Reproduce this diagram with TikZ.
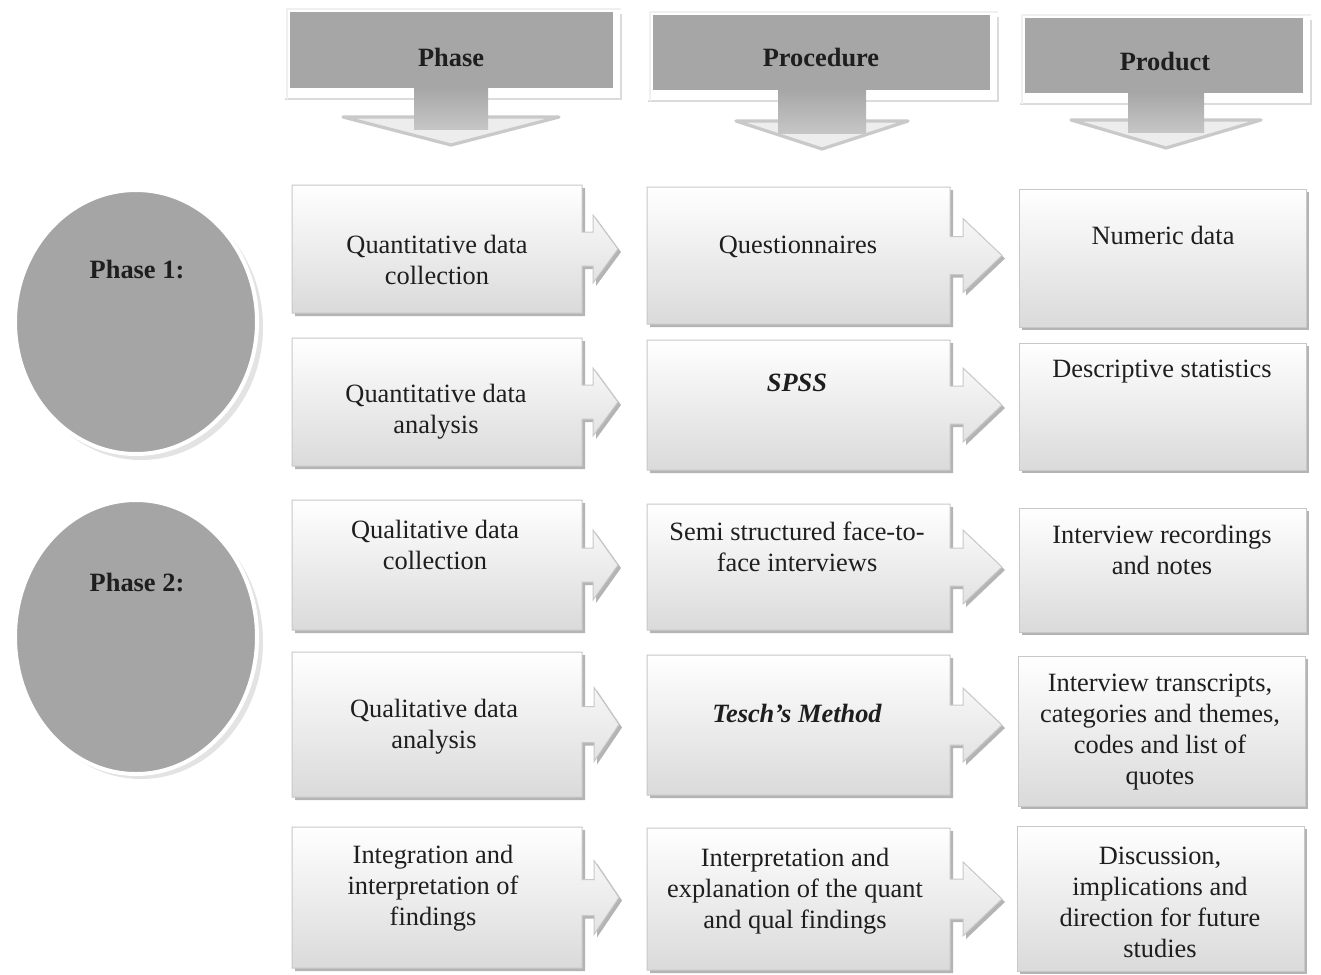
\documentclass[tikz,border=0pt]{standalone}
\usepackage{fontspec}
\setmainfont{Liberation Serif}
\usetikzlibrary{shapes.geometric}
\definecolor{hdrgray}{RGB}{166,166,166}
\definecolor{circgray}{RGB}{165,165,165}
\definecolor{boxbot}{RGB}{218,218,218}
\definecolor{boxline}{RGB}{200,200,200}
\definecolor{shadowc}{RGB}{180,180,180}
\definecolor{txt}{RGB}{30,30,30}
\newcommand\tabbox[9]{% name x0 y0 x1 y1 stemhalf headhalf stemlen headlen
  \coordinate (#1) at ({(#2+#4)/2},{(#3+#5)/2});
  \pgfmathsetmacro\myhw{(#4-#2)/2}%
  \pgfmathsetmacro\myhh{(#5-#3)/2}%
  \pgfmathsetmacro\mysx{\myhw+#8}%
  \pgfmathsetmacro\mytx{\myhw+#8+#9}%
  \begin{scope}[shift={(#1)}]
    \fill[shadowc,shift={(3,3)}] (-\myhw,-\myhh) -- (\myhw,-\myhh) -- (\myhw,-#6) -- (\mysx,-#6) -- (\mysx,-#7) -- (\mytx,0) -- (\mysx,#7) -- (\mysx,#6) -- (\myhw,#6) -- (\myhw,\myhh) -- (-\myhw,\myhh) -- cycle;
    \path[boxsty] (-\myhw,-\myhh) -- (\myhw,-\myhh) -- (\myhw,-#6) -- (\mysx,-#6) -- (\mysx,-#7) -- (\mytx,0) -- (\mysx,#7) -- (\mysx,#6) -- (\myhw,#6) -- (\myhw,\myhh) -- (-\myhw,\myhh) -- cycle;
  \end{scope}}
\newcommand\plainbox[5]{% name x0 y0 x1 y1
  \coordinate (#1) at ({(#2+#4)/2},{(#3+#5)/2});
  \fill[shadowc] ({#2+3},{#3+3}) rectangle ({#4+3},{#5+3});
  \path[boxsty] (#2,#3) rectangle (#4,#5);}
\newcommand\header[9]{% name x0 y0 x1 y1 cx stemhalf headhalf headtop
  \coordinate (#1) at (#6,{(#3+#5)/2});
  \draw[hdrshadow] ({#2-5},{#5+11}) -- ({#6-#7},{#5+11});
  \draw[hdrshadow] ({#6+#7},{#5+11}) -- ({#4+8},{#5+11}) -- ({#4+8},{#3+2});
  \draw[draw=gray!12,line width=0.8pt] ({#2-3},{#5+11}) -- ({#2-3},{#3-3}) -- ({#4+8},{#3-3});
  \filldraw[fill=gray!14,draw=gray!42,line width=1.6pt,line join=round] ({#6-#8},#9) -- ({#6+#8},#9) -- (#6,{#9+28}) -- cycle;
  \shade[top color=hdrgray,bottom color=gray!45] ({#6-#7},{#5-1}) rectangle ({#6+#7},{#9+12});
  \fill[hdrgray] (#2,#3) rectangle (#4,#5);}
\begin{document}
\begin{tikzpicture}[x=0.5pt,y=-0.5pt,
  boxsty/.style={top color=white,bottom color=boxbot,draw=boxline,line width=0.5pt},
  hdrshadow/.style={draw=gray!28,line width=1pt},
  lbl/.style={font=\fontsize{13.2}{15.5}\selectfont,text=txt,align=center,inner sep=0pt},
  ttl/.style={lbl,font=\fontsize{13.2}{15.5}\selectfont\bfseries},
  phase/.style={ellipse,fill=circgray,draw=white,line width=2pt,inner sep=0pt}]
\useasboundingbox (0,0) rectangle (1321,974);
\fill[white] (0,0) rectangle (1321,974);

% headers
\header{hA}{290}{12}{613}{88}{451}{37}{108}{117}
\header{hB}{653}{15}{990}{90}{822}{44}{86}{121}
\header{hC}{1025}{18}{1303}{93}{1166}{38}{95}{120}
\node[ttl] (hAt) at (451,57) {Phase};
\node[ttl] (hBt) at (821,58) {Procedure};
\node[ttl] (hCt) at (1165,62) {Product};

% phase circles
\fill[gray!22] (141,327) ellipse [x radius=122, y radius=133];
\node[phase,minimum width=121pt,minimum height=132pt] (c1) at (136,322) {};
\fill[gray!22] (141,642) ellipse [x radius=122, y radius=137];
\node[phase,minimum width=121pt,minimum height=137pt] (c2) at (136,637) {};
\node[ttl] (c1t) at (137,270) {Phase 1:};
\node[ttl] (c2t) at (137,583) {Phase 2:};

% column 1
\tabbox{a1}{292}{185}{582}{313}{17}{34}{11}{25}
\tabbox{a2}{292}{338}{582}{466}{17}{34}{11}{25}
\tabbox{a3}{292}{500}{582}{630}{17}{35}{11}{25}
\tabbox{a4}{292}{652}{582}{797}{18}{37}{12}{25}
\tabbox{a5}{292}{827}{582}{968}{18}{37}{12}{25}
% column 2
\tabbox{b1}{647}{187}{950}{324}{19}{37}{13}{39}
\tabbox{b2}{647}{340}{950}{470}{19}{37}{13}{39}
\tabbox{b3}{647}{504}{950}{630}{19}{37}{13}{39}
\tabbox{b4}{647}{655}{950}{795}{20}{37}{13}{39}
\tabbox{b5}{647}{828}{950}{970}{20}{37}{13}{39}
% column 3
\plainbox{d1}{1019}{189}{1306}{327}
\plainbox{d2}{1019}{343}{1306}{470}
\plainbox{d3}{1019}{508}{1306}{632}
\plainbox{d4}{1018}{656}{1305}{806}
\plainbox{d5}{1017}{826}{1304}{971}

% texts
\node[lbl] (a1t) at (437,260) {Quantitative data\\collection};
\node[lbl] (a2t) at (436,412) {Quantitative data\\analysis};
\node[lbl] (a3t) at (435,545) {Qualitative data\\collection};
\node[lbl] (a4t) at (434,727) {Qualitative data\\analysis};
\node[lbl] (a5t) at (433,888) {Integration and\\interpretation of\\findings};

\node[lbl] (b1t) at (798,247) {Questionnaires};
\node[lbl,font=\fontsize{13.2}{15.5}\selectfont\bfseries\itshape] (b2t) at (797,383) {SPSS};
\node[lbl] (b3t) at (797,547) {Semi structured face-to-\\face interviews};
\node[lbl,font=\fontsize{13.2}{15.5}\selectfont\bfseries\itshape] (b4t) at (797,713) {Tesch’s Method};
\node[lbl] (b5t) at (795,891) {Interpretation and\\explanation of the quant\\and qual findings};

\node[lbl] (d1t) at (1163,235) {Numeric data};
\node[lbl] (d2t) at (1162,372) {Descriptive statistics};
\node[lbl] (d3t) at (1162,550) {Interview recordings\\and notes};
\node[lbl] (d4t) at (1160,732) {Interview transcripts,\\categories and themes,\\codes and list of\\quotes};
\node[lbl] (d5t) at (1160,902) {Discussion,\\implications and\\direction for future\\studies};
\end{tikzpicture}
\end{document}
